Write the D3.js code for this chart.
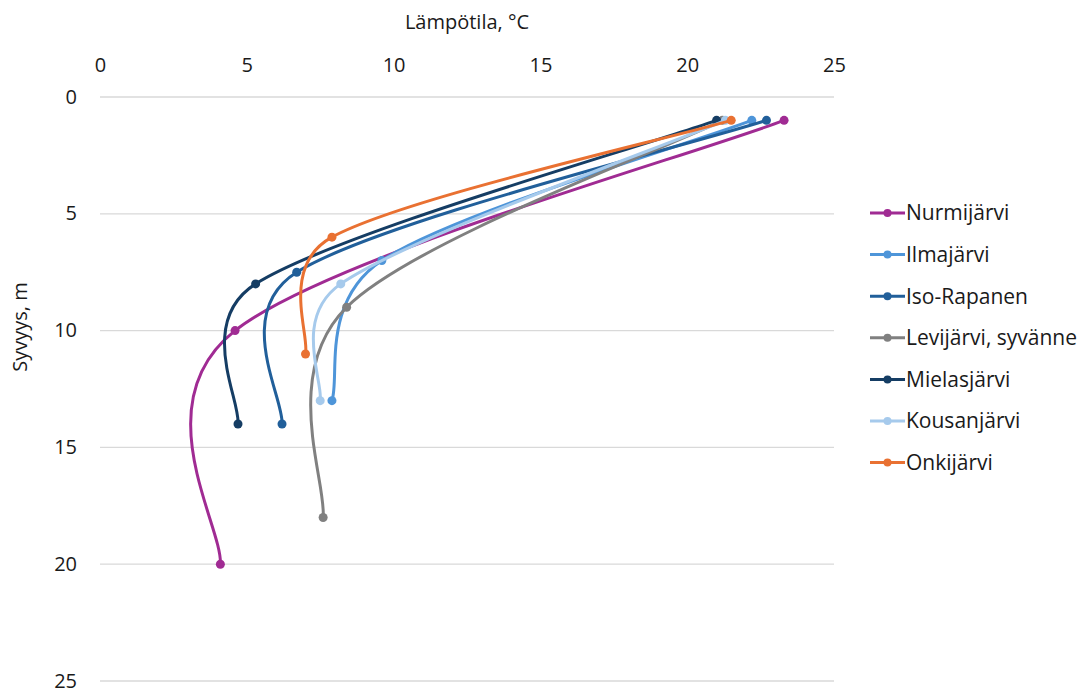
<!DOCTYPE html>
<html>
<head>
<meta charset="utf-8">
<script src="https://cdn.jsdelivr.net/npm/d3@7"></script>
<style>
  html, body { margin: 0; padding: 0; background: #fff; }
  text { font-family: "Open Sans", "Noto Sans", sans-serif; fill: #1a1a1a; }
</style>
</head>
<body>
<svg id="chart" width="1089" height="690"></svg>
<script>
// ---- data ----
const seriesNames = ["Nurmijärvi", "Ilmajärvi", "Iso-Rapanen", "Levijärvi, syvänne", "Mielasjärvi", "Kousanjärvi", "Onkijärvi"];
const nurmijarviTemp = [23.3, 4.6, 4.1];
const nurmijarviDepth = [1, 10, 20];
const ilmajarviTemp = [22.2, 9.6, 7.9];
const ilmajarviDepth = [1, 7, 13];
const isoRapanenTemp = [22.7, 6.7, 6.2];
const isoRapanenDepth = [1, 7.5, 14];
const levijarviTemp = [21.2, 8.4, 7.6];
const levijarviDepth = [1, 9, 18];
const mielasjarviTemp = [21.0, 5.3, 4.7];
const mielasjarviDepth = [1, 8, 14];
const kousanjarviTemp = [21.3, 8.2, 7.5];
const kousanjarviDepth = [1, 8, 13];
const onkijarviTemp = [21.5, 7.9, 7.0];
const onkijarviDepth = [1, 6, 11];
const xTicks = [0, 5, 10, 15, 20, 25];
const yTicks = [0, 5, 10, 15, 20, 25];
const colors = ["#A02B93", "#4E95D9", "#215F9A", "#808080", "#153D64", "#A6CAEC", "#E97132"];

const series = [
  [nurmijarviTemp, nurmijarviDepth],
  [ilmajarviTemp, ilmajarviDepth],
  [isoRapanenTemp, isoRapanenDepth],
  [levijarviTemp, levijarviDepth],
  [mielasjarviTemp, mielasjarviDepth],
  [kousanjarviTemp, kousanjarviDepth],
  [onkijarviTemp, onkijarviDepth]
].map((s, i) => ({ name: seriesNames[i], color: colors[i], pts: s[0].map((t, j) => ({ t, d: s[1][j] })) }));

// ---- layout ----
const FONT = 20;
const svg = d3.select("#chart");
const x = d3.scaleLinear().domain([0, 25]).range([100, 834]);
const y = d3.scaleLinear().domain([0, 25]).range([97, 681]);

// gridlines
svg.append("g").selectAll("line").data(yTicks).join("line")
  .attr("x1", x(0)).attr("x2", x(25))
  .attr("y1", d => y(d)).attr("y2", d => y(d))
  .attr("stroke", "#d9d9d9").attr("stroke-width", 1.3);

// x axis (top)
const xAxis = svg.append("g").attr("transform", `translate(0,${y(0)})`)
  .call(d3.axisTop(x).tickValues(xTicks).tickSize(0).tickPadding(25));
xAxis.select(".domain").remove();
xAxis.selectAll("text").attr("font-size", FONT).attr("fill", "#1a1a1a")
  .style("font-family", '"Open Sans", "Noto Sans", sans-serif');

// y axis (left)
const yAxis = svg.append("g").attr("transform", `translate(${x(0)},0)`)
  .call(d3.axisLeft(y).tickValues(yTicks).tickSize(0).tickPadding(23));
yAxis.select(".domain").remove();
yAxis.selectAll("text").attr("font-size", FONT).attr("fill", "#1a1a1a")
  .attr("dy", "0.3em")
  .style("font-family", '"Open Sans", "Noto Sans", sans-serif');

// axis titles
svg.append("text").attr("x", (x(0) + x(25)) / 2).attr("y", 29)
  .attr("text-anchor", "middle").attr("font-size", FONT).text("Lämpötila, °C");
svg.append("text").attr("transform", `translate(27,${327}) rotate(-90)`)
  .attr("text-anchor", "middle").attr("font-size", FONT).text("Syvyys, m");

// Excel-like smoothed line: Bezier with arms (P[i+1]-P[i-1])/6, limited to half the adjacent segment
function smoothPath(pts) {
  const P = pts.map(p => [x(p.t), y(p.d)]);
  const n = P.length;
  const dist = (a, b) => Math.hypot(b[0] - a[0], b[1] - a[1]);
  const unit = [], fwd = [], back = [];
  for (let i = 0; i < n; i++) {
    const a = P[Math.max(0, i - 1)], b = P[Math.min(n - 1, i + 1)];
    const L = dist(a, b);
    unit.push([(b[0] - a[0]) / L, (b[1] - a[1]) / L]);
    const base = L / 6;
    fwd.push(i < n - 1 ? Math.min(base, dist(P[i], P[i + 1]) / 2) : 0);
    back.push(i > 0 ? Math.min(base, dist(P[i - 1], P[i]) / 2) : 0);
  }
  const path = d3.path();
  path.moveTo(P[0][0], P[0][1]);
  for (let i = 0; i < n - 1; i++) {
    const c1 = [P[i][0] + unit[i][0] * fwd[i], P[i][1] + unit[i][1] * fwd[i]];
    const c2 = [P[i + 1][0] - unit[i + 1][0] * back[i + 1], P[i + 1][1] - unit[i + 1][1] * back[i + 1]];
    path.bezierCurveTo(c1[0], c1[1], c2[0], c2[1], P[i + 1][0], P[i + 1][1]);
  }
  return path.toString();
}

// lines
const g = svg.append("g");
series.forEach(s => {
  g.append("path").attr("d", smoothPath(s.pts)).attr("fill", "none")
    .attr("stroke", s.color).attr("stroke-width", 3).attr("stroke-linecap", "round");
  g.selectAll(null).data(s.pts).join("circle")
    .attr("cx", p => x(p.t)).attr("cy", p => y(p.d)).attr("r", 4.5)
    .attr("fill", s.color);
});

// legend
const leg = svg.append("g");
series.forEach((s, i) => {
  const yy = 213 + i * 41.6;
  leg.append("line").attr("x1", 870).attr("x2", 905).attr("y1", yy).attr("y2", yy)
    .attr("stroke", s.color).attr("stroke-width", 3);
  leg.append("circle").attr("cx", 887.5).attr("cy", yy).attr("r", 4).attr("fill", s.color);
  leg.append("text").attr("x", 906).attr("y", yy).attr("dy", "0.35em")
    .attr("font-size", 21).text(s.name);
});
</script>
</body>
</html>
